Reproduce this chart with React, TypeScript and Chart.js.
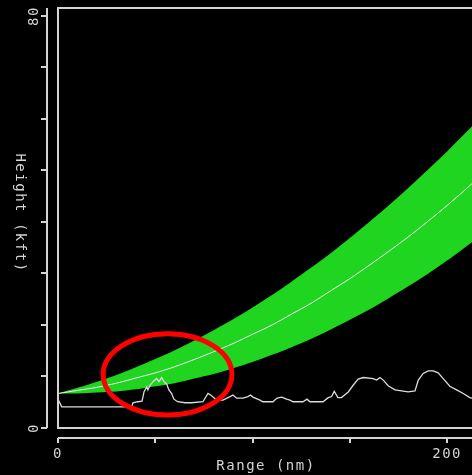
import React, { useEffect, useRef } from "react";
import { Chart, registerables } from "chart.js";

Chart.register(...registerables);

// Beam (radar) coverage: range in nm, heights in kft
const beamRange = [0, 10, 20, 30, 40, 50, 60, 70, 80, 90, 100, 110, 120, 130, 140, 150, 160, 170, 180, 190, 200, 210, 215];
const beamCenter = [6.7, 7.3, 7.9, 8.7, 9.7, 10.7, 11.9, 13.3, 14.8, 16.4, 18.2, 20.0, 22.1, 24.2, 26.6, 29.0, 31.6, 34.3, 37.1, 40.1, 43.2, 46.5, 48.2];
const beamUpper = [6.7, 7.8, 9.0, 10.3, 11.8, 13.4, 15.1, 17.0, 19.0, 21.1, 23.4, 25.8, 28.4, 31.1, 33.9, 36.9, 40.0, 43.2, 46.6, 50.1, 53.7, 57.5, 59.5];
const beamLower = [6.7, 6.7, 6.9, 7.1, 7.5, 8.1, 8.7, 9.6, 10.5, 11.6, 12.8, 14.2, 15.7, 17.3, 19.1, 21.0, 23.0, 25.2, 27.5, 29.9, 32.5, 35.3, 36.7];

// Terrain profile
const terrainRange = [0, 1.9, 37.9, 38.5, 41.1, 43.2, 44.2, 45.6, 46.2, 47.3, 48.8, 50.7, 51.9, 53.3, 54.5, 55.9, 57.0, 58.4, 59.6, 61.5, 65.3, 68.7, 74.5, 77.1, 78.5, 79.7, 81.7, 84.8, 88.4, 89.9, 91.8, 95.1, 97.6, 99.0, 100.2, 103.8, 105.3, 110.5, 112.6, 115.0, 117.5, 119.2, 120.8, 125.9, 128.0, 129.5, 136.2, 138.9, 140.6, 142.0, 143.9, 145.7, 149.2, 151.7, 154.3, 156.9, 162.0, 163.8, 165.5, 167.2, 169.7, 173.2, 180.0, 183.5, 185.2, 187.7, 190.3, 192.9, 195.4, 198.0, 201.4, 204.9, 208.3, 211.7, 212.7, 214];
const terrainHeight = [5.6, 4.1, 4.1, 4.9, 5.1, 5.2, 7.0, 8.0, 7.4, 8.3, 9.0, 9.6, 9.0, 9.8, 9.0, 8.5, 7.4, 6.7, 5.6, 5.1, 4.9, 4.9, 5.1, 6.7, 6.4, 6.0, 5.4, 5.4, 6.1, 6.4, 5.8, 5.8, 6.1, 6.4, 6.0, 5.4, 5.1, 5.1, 5.8, 6.0, 5.6, 5.4, 5.1, 5.1, 5.6, 5.1, 5.1, 5.9, 6.1, 7.1, 5.9, 5.9, 7.0, 8.3, 9.5, 9.8, 9.6, 9.3, 9.8, 9.3, 8.2, 7.4, 7.0, 7.2, 9.3, 10.6, 11.1, 11.1, 10.7, 9.6, 8.1, 7.4, 6.7, 5.9, 5.8, 5.5];

// Axis ticks
const xTicks = [0, 50, 100, 150, 200];
const xTickLabels = ["0", "", "", "", "200"];
const yTicks = [0, 10, 20, 30, 40, 50, 60, 70, 80];
const yTickLabels = ["0", "", "", "", "", "", "", "", "80"];
const xTitle = "Range (nm)";
const yTitle = "Height (kft)";

// Highlight annotation (data coords)
const markCenter = { x: 56.3, y: 10.4 };
const markRadius = { x: 33.1, y: 7.9 };

const X_MAX = 212.8;
const Y_MAX = 81.55;

const FG = "#d4d4d4";
const GREEN = "#1fd51f";

const pts = (xs: number[], ys: number[]) => xs.map((x, i) => ({ x, y: ys[i] }));

const decorPlugin = {
  id: "decor",
  afterDatasetsDraw(chart: any) {
    const ctx = chart.ctx as CanvasRenderingContext2D;
    const xs = chart.scales.x;
    const ys = chart.scales.y;
    const a = chart.chartArea;
    ctx.save();
    // plot frame (left, top, bottom)
    ctx.strokeStyle = FG;
    ctx.lineWidth = 2;
    ctx.beginPath();
    ctx.moveTo(a.right + 5, a.top);
    ctx.lineTo(a.left, a.top);
    ctx.lineTo(a.left, a.bottom);
    ctx.lineTo(a.right + 5, a.bottom);
    ctx.stroke();

    // detached y axis
    const yAxisX = a.left - 11;
    ctx.beginPath();
    ctx.moveTo(yAxisX, a.top);
    ctx.lineTo(yAxisX, a.bottom);
    yTicks.forEach((v) => {
      const py = Math.round(ys.getPixelForValue(v));
      ctx.moveTo(yAxisX, py);
      ctx.lineTo(yAxisX - 6, py);
    });
    ctx.stroke();

    // detached x axis
    const xAxisY = a.bottom + 10;
    ctx.beginPath();
    ctx.moveTo(a.left, xAxisY);
    ctx.lineTo(a.right + 5, xAxisY);
    xTicks.forEach((v) => {
      const px = Math.round(xs.getPixelForValue(v));
      ctx.moveTo(px, xAxisY);
      ctx.lineTo(px, xAxisY + 5);
    });
    ctx.stroke();

    // text
    ctx.fillStyle = FG;
    ctx.font = '14px "DejaVu Sans Mono"';
    (ctx as any).letterSpacing = "1.5px";
    ctx.textAlign = "center";
    ctx.textBaseline = "alphabetic";
    xTicks.forEach((v, i) => {
      if (!xTickLabels[i]) return;
      ctx.fillText(xTickLabels[i], xs.getPixelForValue(v), xAxisY + 20);
    });
    ctx.fillText(xTitle, (a.left + a.right) / 2 + 1, xAxisY + 32);

    yTicks.forEach((v, i) => {
      if (!yTickLabels[i]) return;
      ctx.save();
      ctx.translate(yAxisX - 9, ys.getPixelForValue(v));
      ctx.rotate(-Math.PI / 2);
      ctx.textAlign = "center";
      ctx.fillText(yTickLabels[i], 0, 0);
      ctx.restore();
    });
    ctx.save();
    ctx.translate(16, 213);
    ctx.rotate(Math.PI / 2);
    ctx.textAlign = "center";
    ctx.fillText(yTitle, 0, 0);
    ctx.restore();

    // red ellipse annotation
    const cx = xs.getPixelForValue(markCenter.x);
    const cy = ys.getPixelForValue(markCenter.y);
    const rx = xs.getPixelForValue(markCenter.x + markRadius.x) - cx;
    const ry = cy - ys.getPixelForValue(markCenter.y + markRadius.y);
    ctx.strokeStyle = "#ff0000";
    ctx.lineWidth = 5;
    ctx.beginPath();
    ctx.ellipse(cx, cy, rx, ry, 0, 0, Math.PI * 2);
    ctx.stroke();
    ctx.restore();
  },
};

export default function App() {
  const ref = useRef<HTMLCanvasElement | null>(null);
  useEffect(() => {
    if (!ref.current) return;
    const chart = new Chart(ref.current, {
      type: "line",
      data: {
        datasets: [
          {
            data: pts(beamRange, beamLower),
            borderWidth: 0,
            borderColor: GREEN,
            pointRadius: 0,
            fill: false,
            tension: 0.3,
            order: 3,
          },
          {
            data: pts(beamRange, beamUpper),
            borderWidth: 0,
            borderColor: GREEN,
            backgroundColor: GREEN,
            pointRadius: 0,
            fill: "-1",
            tension: 0.3,
            order: 2,
          },
          {
            data: pts(beamRange, beamCenter),
            borderWidth: 1,
            borderColor: "#f0f0f0",
            pointRadius: 0,
            fill: false,
            tension: 0.3,
            order: 1,
          },
          {
            data: pts(terrainRange, terrainHeight),
            borderWidth: 1.3,
            borderColor: "#dcdcdc",
            pointRadius: 0,
            fill: false,
            tension: 0,
            order: 0,
          },
        ],
      },
      options: {
        animation: false,
        responsive: false,
        maintainAspectRatio: false,
        layout: { padding: { left: 58, top: 8, right: 0, bottom: 47 } },
        plugins: { legend: { display: false }, tooltip: { enabled: false } },
        events: [],
        scales: {
          x: { type: "linear", min: 0, max: X_MAX, display: false },
          y: { type: "linear", min: 0, max: Y_MAX, display: false },
        },
      },
      plugins: [decorPlugin],
    });
    return () => chart.destroy();
  }, []);
  return (
    <div style={{ position: "fixed", left: 0, top: 0, width: 472, height: 475, background: "#000", overflow: "hidden" }}>
      <canvas ref={ref} width={472} height={475} style={{ display: "block" }} />
    </div>
  );
}
